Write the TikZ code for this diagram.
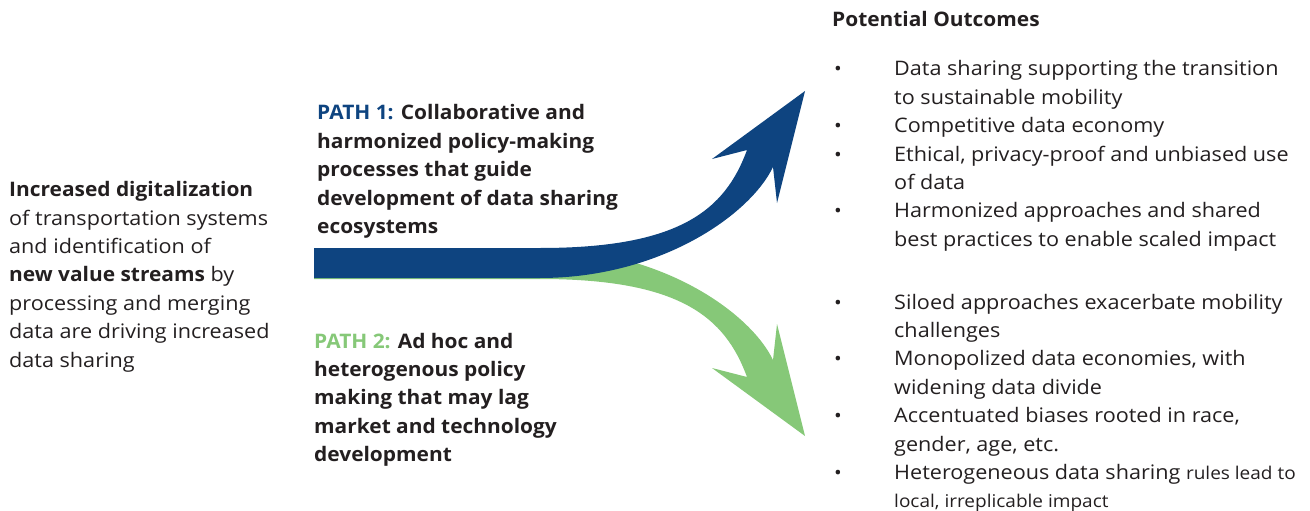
\documentclass[tikz,border=0pt]{standalone}
\usepackage{fontspec}
\setmainfont{Open Sans}[FakeStretch=1.08, BoldFeatures={FakeStretch=1.045}]
\definecolor{pblue}{HTML}{0E4480}
\definecolor{pgreen}{HTML}{86C878}
\definecolor{txt}{HTML}{231F20}
\newcommand{\bul}{{\fontsize{19}{19}\selectfont\textbullet}}
\newcommand{\smalltxt}[1]{{\fontsize{17.6}{28.4}\selectfont #1}}
\begin{document}
\begin{tikzpicture}[x=1pt,y=-1pt,
  every node/.style={inner sep=0pt, text=txt},
  body/.style={anchor=base west, font=\fontsize{20}{28.4}\selectfont},
  arrowfill/.style={draw=none}]
\useasboundingbox (0,0) rectangle (1310,511);
% green path arrow (mirror of the blue one)
\fill[pgreen, arrowfill] (314,279) -- (540,279) .. controls (680,279) and (725,317) .. (747,377)
  -- (712,368) -- (805,436) -- (777,324) -- (773,360)
  .. controls (750,312) and (660,249) .. (540,249) -- (314,249) -- cycle;
% blue path arrow
\fill[pblue, arrowfill] (314,248) -- (540,248) .. controls (680,248) and (725,210) .. (747,150)
  -- (712,159) -- (805,91) -- (777,203) -- (773,167)
  .. controls (750,215) and (660,278) .. (540,278) -- (314,278) -- cycle;

\node[body] (intro) at (9,196.7) {\begin{tabular}[t]{@{}l@{}}
\textbf{Increased digitalization}\\
of transportation systems\\
and identification of\\
\textbf{new value streams} by\\
processing and merging\\
data are driving increased\\
data sharing\end{tabular}};

\node[body] (path1) at (317,120) {\begin{tabular}[t]{@{}l@{}}
\textbf{\textcolor{pblue}{PATH 1:} Collaborative and}\\
\textbf{harmonized policy-making}\\
\textbf{processes that guide}\\
\textbf{development of data sharing}\\
\textbf{ecosystems}\end{tabular}};

\node[body] (path2) at (314,348) {\begin{tabular}[t]{@{}l@{}}
\textbf{\textcolor{pgreen}{PATH 2:} Ad hoc and}\\
\textbf{heterogenous policy}\\
\textbf{making that may lag}\\
\textbf{market and technology}\\
\textbf{development}\end{tabular}};

\node[body] (title) at (832,27) {\textbf{Potential Outcomes}};

\node[body] (good) at (834,76) {\begin{tabular}[t]{@{}p{60pt}@{}l@{}}
\bul & Data sharing supporting the transition\\
 & to sustainable mobility\\
\bul & Competitive data economy\\
\bul & Ethical, privacy-proof and unbiased use\\
 & of data\\
\bul & Harmonized approaches and shared\\
 & best practices to enable scaled impact\end{tabular}};

\node[body] (bad) at (834,309) {\begin{tabular}[t]{@{}p{60pt}@{}l@{}}
\bul & Siloed approaches exacerbate mobility\\
 & challenges\\
\bul & Monopolized data economies, with\\
 & widening data divide\\
\bul & Accentuated biases rooted in race,\\
 & gender, age, etc.\\
\bul & Heterogeneous data sharing \smalltxt{rules lead to}\\
 & \smalltxt{local, irreplicable impact}\end{tabular}};
\end{tikzpicture}
\end{document}
